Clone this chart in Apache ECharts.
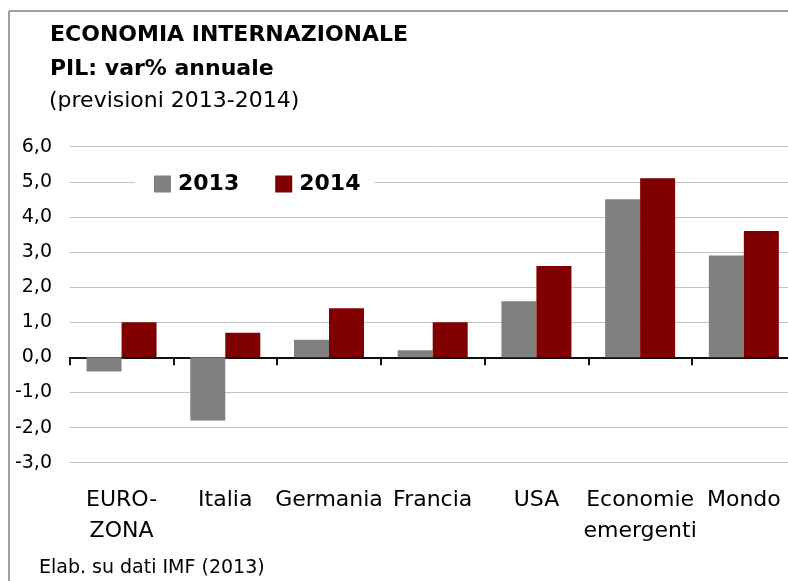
<!DOCTYPE html>
<html>
<head>
<meta charset="utf-8">
<script src="https://cdn.jsdelivr.net/npm/echarts@6/dist/echarts.min.js"></script>
<style>
    * { margin: 0; padding: 0; }
    html, body { width: 788px; height: 581px; overflow: hidden; background: #fff; }
    #pil { width: 800px; height: 581px; }
</style>
</head>
<body>
<div id="pil"></div>
<script>
    // dati IMF (2013), previsioni
    var categorie = ['EURO-\nZONA', 'Italia', 'Germania', 'Francia', 'USA', 'Economie\nemergenti', 'Mondo'];
    var anni = ['2013', '2014'];
    var pil2013 = [-0.4, -1.8, 0.5, 0.2, 1.6, 4.5, 2.9];
    var pil2014 = [1.0, 0.7, 1.4, 1.0, 2.6, 5.1, 3.6];
    var yMin = -3, yMax = 6, yStep = 1;

    var font = 'DejaVu Sans';
    var chart = echarts.init(document.getElementById('pil'));
    chart.setOption({
        animation: false,
        backgroundColor: '#fff',
        color: ['#808080', '#800000'],
        title: [
            { text: 'ECONOMIA INTERNAZIONALE', left: 50, top: 20, padding: 0,
              textStyle: { fontFamily: font, fontSize: 22, fontWeight: 'bold', color: '#000', lineHeight: 30 } },
            { text: 'PIL: var% annuale', left: 50, top: 54, padding: 0,
              textStyle: { fontFamily: font, fontSize: 22, fontWeight: 'bold', color: '#000', lineHeight: 30 } },
            { text: '(previsioni 2013-2014)', left: 49, top: 86, padding: 0,
              textStyle: { fontFamily: font, fontSize: 22, fontWeight: 'normal', color: '#000', lineHeight: 30 } },
            { text: 'Elab. su dati IMF (2013)', left: 39, top: 554, padding: 0,
              textStyle: { fontFamily: font, fontSize: 19, fontWeight: 'normal', color: '#000', lineHeight: 28 } }
        ],
        legend: {
            data: anni,
            left: 135,
            top: 168,
            padding: [4, 14, 4, 19],
            backgroundColor: '#fff',
            icon: 'rect',
            itemWidth: 17,
            itemHeight: 17,
            itemGap: 36,
            textStyle: { fontFamily: font, fontSize: 22, fontWeight: 'bold', color: '#000', lineHeight: 24, padding: [0, 0, 0, 2] }
        },
        grid: { left: 69.7, top: 146.7, width: 726, height: 316, containLabel: false, outerBoundsMode: 'none' },
        xAxis: [
            {
                // linea dello zero con le tacche
                type: 'category',
                data: categorie,
                position: 'top',
                axisLine: { onZero: true, lineStyle: { color: '#111', width: 2 } },
                axisTick: { show: true, inside: true, length: 8, lineStyle: { color: '#111', width: 2 } },
                axisLabel: { show: false },
                splitLine: { show: false }
            },
            {
                // etichette in fondo
                type: 'category',
                data: categorie,
                position: 'bottom',
                axisLine: { show: false, onZero: false },
                axisTick: { show: false },
                axisLabel: { margin: 22, interval: 0, fontFamily: font, fontSize: 22, color: '#000', lineHeight: 31 },
                splitLine: { show: false }
            }
        ],
        yAxis: {
            type: 'value',
            min: yMin,
            max: yMax,
            interval: yStep,
            axisLine: { show: false },
            axisTick: { show: false },
            axisLabel: {
                margin: 17.7, fontFamily: font, fontSize: 19, color: '#000',
                formatter: function (v) { return v.toFixed(1).replace('.', ','); }
            },
            splitLine: { lineStyle: { color: '#c4c4c4', width: 1 } }
        },
        series: [
            { name: anni[0], type: 'bar', data: pil2013, barWidth: 35, barGap: '0%' },
            { name: anni[1], type: 'bar', data: pil2014, barWidth: 35, barGap: '0%' }
        ],
        graphic: [
            { type: 'line', shape: { x1: 9, y1: 11, x2: 800, y2: 11 }, style: { stroke: '#a0a0a0', lineWidth: 2 } },
            { type: 'line', shape: { x1: 9, y1: 11, x2: 9, y2: 581 }, style: { stroke: '#a0a0a0', lineWidth: 2 } }
        ]
    });
</script>
</body>
</html>
